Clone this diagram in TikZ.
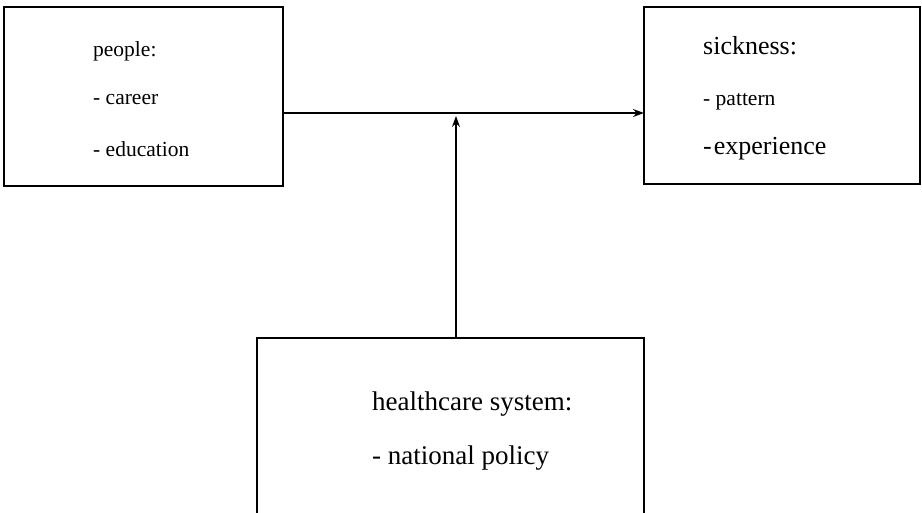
\documentclass[tikz,border=0pt]{standalone}
\usepackage{fontspec}
\setmainfont{Liberation Serif}
\usetikzlibrary{arrows.meta}
\begin{document}
\begin{tikzpicture}[x=1pt,y=-1pt,
  box/.style={draw,line width=1.7pt,inner sep=0pt,outer sep=0pt},
  lbl/.style={anchor=base west,inner sep=0pt},
  small/.style={font=\fontsize{21.5}{26}\selectfont},
  large/.style={font=\fontsize{26}{31}\selectfont},
  huge/.style={font=\fontsize{27}{32}\selectfont},
  link/.style={line width=1.3pt,-{Stealth[length=11pt,width=8pt]}}]
  \useasboundingbox (0,0) rectangle (922,513);
  \clip (0,0) rectangle (922,513);

  % the three boxes
  \node[box,minimum width=279pt,minimum height=179pt] (people) at (143.5,96.5) {};
  \node[box,minimum width=276pt,minimum height=177pt] (sick) at (782,95.5) {};
  \node[box,minimum width=387pt,minimum height=200pt] (health) at (450.5,438) {};

  % box texts
  \node[lbl,small] (p1) at (93,57) {people:};
  \node[lbl,small] (p2) at (93,105) {- career};
  \node[lbl,small] (p3) at (93,157) {- education};

  \node[lbl,large] (s1) at (703,55) {sickness:};
  \node[lbl,small] (s2) at (703,106) {- pattern};
  \node[lbl,large] (s3) at (703,155) {-\kern2pt experience};

  \node[lbl,huge] (h1) at (372,410) {healthcare system:};
  \node[lbl,huge] (h2) at (372,464) {- national policy};

  % connectors
  \coordinate (lvl) at (0,113);
  \coordinate (vx) at (456,0);
  \coordinate (meet) at (456,116);
  \draw[link] (people.east |- lvl) -- (sick.west |- lvl);
  \draw[link] (health.north -| vx) -- (meet);
\end{tikzpicture}
\end{document}
